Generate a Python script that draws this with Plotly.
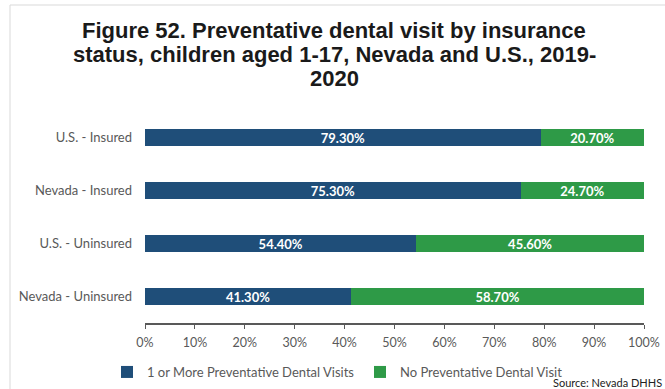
import plotly.graph_objects as go

categories = ["Nevada - Uninsured", "U.S. - Uninsured", "Nevada - Insured", "U.S. - Insured"]
visits = [41.3, 54.4, 75.3, 79.3]
no_visit = [58.7, 45.6, 24.7, 20.7]
tick_vals = [0, 10, 20, 30, 40, 50, 60, 70, 80, 90, 100]
tick_text = [f"{v}%" for v in tick_vals]
title_lines = ["Figure 52. Preventative dental visit by insurance",
               "status, children aged 1-17, Nevada and U.S., 2019-",
               "2020"]

BLUE = "#1f4e79"
GREEN = "#2e9a47"
GRAY = "#595959"
FONT = "Lato, Open Sans"

# plot area in pixels: x 145..644, y 111..323
L, R, T, B = 145, 21, 111, 66
W, H = 665, 389
PW, PH = W - L - R, H - T - B


def px(x):
    return (x - L) / PW


def py(y):
    return (H - B - y) / PH


fig = go.Figure()
for vals, name, color in [(visits, "1 or More Preventative Dental Visits", BLUE),
                          (no_visit, "No Preventative Dental Visit", GREEN)]:
    fig.add_trace(go.Bar(
        y=categories, x=vals, orientation="h",
        name=name,
        marker=dict(color=color, line=dict(width=0)),
        text=[f"<b>{v:.2f}%</b>" for v in vals], textposition="inside",
        insidetextanchor="middle", constraintext="none",
        textfont=dict(color="white", size=13, family=FONT),
    ))

fig.update_layout(
    barmode="stack",
    bargap=0.68,
    width=W, height=H,
    margin=dict(l=L, r=R, t=T, b=B, autoexpand=False),
    paper_bgcolor="white", plot_bgcolor="white",
    xaxis=dict(
        range=[0, 100], tickvals=tick_vals, ticktext=tick_text,
        showgrid=False, zeroline=False, automargin=False,
        showline=True, linecolor=GRAY, linewidth=1.5,
        ticks="outside", ticklen=4, tickcolor=GRAY,
        ticklabelstandoff=3,
        tickfont=dict(family=FONT, size=12.5, color=GRAY),
    ),
    yaxis=dict(
        showgrid=False, zeroline=False, showline=False, automargin=False,
        ticks="", ticklabelstandoff=12,
        tickfont=dict(family=FONT, size=13, color=GRAY),
    ),
    legend=dict(
        orientation="h", x=px(107), xanchor="left", y=py(357), yanchor="top",
        font=dict(family=FONT, size=13, color=GRAY),
        traceorder="normal", itemwidth=30,
        entrywidth=208, entrywidthmode="pixels",
    ),
    font=dict(family=FONT),
)

for line, yc in zip(title_lines, [30, 54, 78]):
    fig.add_annotation(
        text=f"<b>{line}</b>",
        xref="paper", yref="paper", x=px(334), y=py(yc),
        xanchor="center", yanchor="middle", showarrow=False,
        font=dict(family="Liberation Sans, Arial", size=22, color="#1a1a1a"),
    )

fig.add_annotation(
    text="Source: Nevada DHHS", xref="paper", yref="paper",
    x=px(664), y=py(382), xanchor="right", yanchor="middle", showarrow=False,
    font=dict(family=FONT, size=11, color="#222222"),
)

# faint chart-area border (left and top)
fig.add_shape(type="line", xref="paper", yref="paper",
              x0=px(10), x1=px(10), y0=py(5), y1=py(389),
              line=dict(color="#d9d9d9", width=1))
fig.add_shape(type="line", xref="paper", yref="paper",
              x0=px(10), x1=px(665), y0=py(5), y1=py(5),
              line=dict(color="#d9d9d9", width=1))

fig.write_html("out.html", config={"displayModeBar": False},
               post_script="document.body.style.margin='0';")
